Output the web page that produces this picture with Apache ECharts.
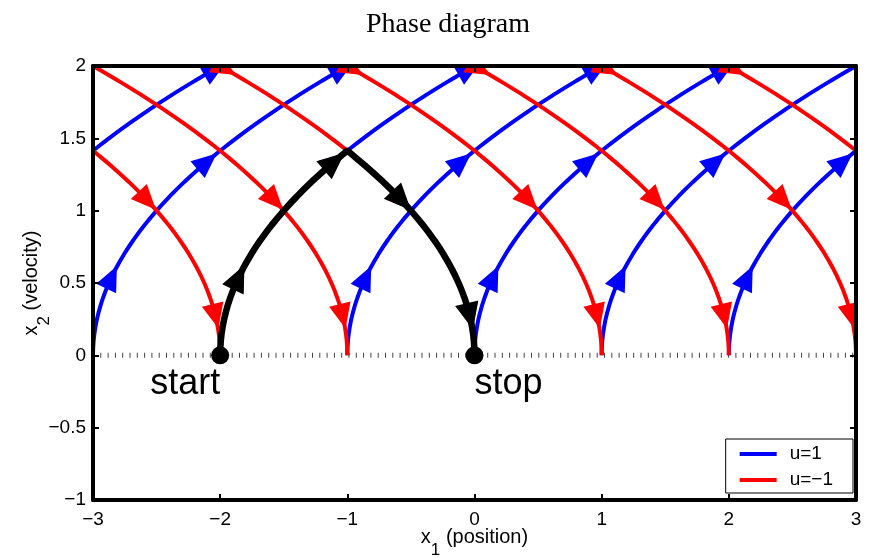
<!DOCTYPE html>
<html>
<head>
<meta charset="utf-8">
<script src="https://cdn.jsdelivr.net/npm/echarts@6/dist/echarts.min.js"></script>
<style>
  html, body { margin: 0; padding: 0; background: #fff; }
  #chart { width: 876px; height: 558px; }
</style>
</head>
<body>
<div id="chart"></div>
<script>
// velocity samples along one trajectory and the matching position drift (x2^2/2)
var speeds = [0, 0.1, 0.2, 0.3, 0.4, 0.5, 0.6, 0.7, 0.8, 0.9, 1.0, 1.1, 1.2, 1.3, 1.4, 1.414, 1.5, 1.6, 1.7, 1.8, 1.9, 2.0];
var drift = [0, 0.005, 0.02, 0.045, 0.08, 0.125, 0.18, 0.245, 0.32, 0.405, 0.5, 0.605, 0.72, 0.845, 0.98, 1.0, 1.125, 1.28, 1.445, 1.62, 1.805, 2.0];

// where each parabola touches x2 = 0
var blueOffsets = [-4, -3, -2, -1, 0, 1, 2];   // u = 1
var redOffsets = [-2, -1, 0, 1, 2, 3, 4];      // u = -1

// arrow heads, by velocity
var blueArrowSpeeds = [0.54, 1.34, 1.98];
var redArrowSpeeds = [1.98, 1.07, 0.27];

var startPos = -2;
var stopPos = 0;
var switchSpeed = 1.414;

var xTicks = [-3, -2, -1, 0, 1, 2, 3];
var yTicks = [-1, -0.5, 0, 0.5, 1, 1.5, 2];

var BLUE = '#0000ff';
var RED = '#ff0000';
var FONT = 'Liberation Sans';

function minus(v) {
  return String(v).replace('-', '\u2212');
}

function curve(offset, sign) {
  var pts = [];
  for (var i = 0; i < speeds.length; i++) {
    pts.push([offset + sign * drift[i], speeds[i]]);
  }
  return pts;
}

var series = [];

// dotted x2 = 0 line
series.push({
  type: 'line',
  data: [[-3, 0], [3, 0]],
  symbol: 'none',
  silent: true,
  z: 1,
  lineStyle: { color: '#444', width: 5, type: [1, 6.3] }
});

blueOffsets.forEach(function (c) {
  series.push({
    type: 'line', name: 'u=1', data: curve(c, 1), smooth: true,
    symbol: 'none', z: 2,
    itemStyle: { color: BLUE },
    lineStyle: { color: BLUE, width: 4 }
  });
});
redOffsets.forEach(function (c) {
  series.push({
    type: 'line', name: 'u=\u22121', data: curve(c, -1), smooth: true,
    symbol: 'none', z: 2,
    itemStyle: { color: RED },
    lineStyle: { color: RED, width: 4 }
  });
});

// optimal path: accelerate then brake
var blackPath = [];
for (var i = 0; i < speeds.length && speeds[i] <= switchSpeed; i++) {
  blackPath.push([startPos + drift[i], speeds[i]]);
}
for (var j = blackPath.length - 2; j >= 0; j--) {
  blackPath.push([stopPos - drift[j], speeds[j]]);
}
series.push({
  type: 'line', data: blackPath, smooth: true, symbol: 'none', z: 4,
  lineStyle: { color: '#000', width: 6.5 }
});

// arrows: [x1, x2, u, size]
var blueArrows = [], redArrows = [], blackArrows = [];
blueOffsets.forEach(function (c) {
  blueArrowSpeeds.forEach(function (v) {
    var x = c + v * v / 2;
    if (x > -3 && x < 2.93) blueArrows.push([x, v, 1, 25]);
  });
});
redOffsets.forEach(function (c) {
  redArrowSpeeds.forEach(function (v) {
    var x = c - v * v / 2;
    if (x > -2.93 && x < 3.02) redArrows.push([x, v, -1, 25]);
  });
});
blueArrowSpeeds.forEach(function (v) {
  if (v < switchSpeed) blackArrows.push([startPos + v * v / 2, v, 1, 27]);
});
redArrowSpeeds.forEach(function (v) {
  if (v < switchSpeed) blackArrows.push([stopPos - v * v / 2, v, -1, 27]);
});

function arrowSeries(data, color, z) {
  return {
    type: 'custom',
    data: data,
    clip: true,
    z: z,
    silent: true,
    encode: { x: 0, y: 1 },
    renderItem: function (params, api) {
      var x = api.value(0), y = api.value(1), u = api.value(2), size = api.value(3);
      var p = api.coord([x, y]);
      var q = api.coord([x + y * 0.01, y + u * 0.01]);
      var dx = q[0] - p[0], dy = q[1] - p[1];
      var len = Math.sqrt(dx * dx + dy * dy);
      dx /= len; dy /= len;
      var half = size / 2, w = size * 0.44;
      var tip = [p[0] + dx * half, p[1] + dy * half];
      var b = [p[0] - dx * half, p[1] - dy * half];
      return {
        type: 'polygon',
        shape: { points: [tip, [b[0] - dy * w, b[1] + dx * w], [b[0] + dy * w, b[1] - dx * w]] },
        style: { fill: color }
      };
    }
  };
}
series.push(arrowSeries(blueArrows, BLUE, 3));
series.push(arrowSeries(redArrows, RED, 3));
series.push(arrowSeries(blackArrows, '#000', 5));

// start / stop markers
series.push({
  type: 'scatter',
  symbolSize: 18,
  z: 6,
  itemStyle: { color: '#000', opacity: 1 },
  label: {
    show: true, position: 'bottom', distance: 2, formatter: '{b}',
    fontFamily: FONT, fontSize: 36, color: '#000', opacity: 1
  },
  data: [
    { name: 'start', value: [startPos, 0], label: { align: 'right' } },
    { name: 'stop', value: [stopPos, 0], label: { align: 'left' } }
  ]
});

var tickLabel = { fontFamily: FONT, fontSize: 19, color: '#000' };
var frameLine = { show: true, onZero: false, lineStyle: { color: '#000', width: 4 } };
var innerTick = { show: true, inside: true, length: 6, lineStyle: { color: '#000', width: 2 } };
var nameStyle = {
  fontFamily: FONT, fontSize: 20, color: '#000', lineHeight: 44,
  rich: { s: { fontFamily: FONT, fontSize: 17, lineHeight: 20, verticalAlign: 'bottom', color: '#000' } }
};

var chart = echarts.init(document.getElementById('chart'));
chart.setOption({
  animation: false,
  backgroundColor: '#fff',
  title: {
    text: 'Phase diagram',
    left: 361,
    top: 6,
    textStyle: { fontFamily: 'Liberation Serif', fontSize: 28, fontWeight: 'normal', color: '#000' }
  },
  legend: {
    right: 23,
    bottom: 65,
    orient: 'vertical',
    data: [{ name: 'u=1', icon: 'rect' }, { name: 'u=\u22121', icon: 'rect' }],
    itemWidth: 37,
    itemHeight: 4,
    itemGap: 6,
    padding: [5, 20, 3, 14],
    backgroundColor: '#fff',
    borderColor: '#000',
    borderWidth: 1,
    borderRadius: 0,
    selectedMode: false,
    textStyle: { fontFamily: FONT, fontSize: 19, lineHeight: 20, color: '#000', padding: [0, 0, 0, 8] }
  },
  grid: { left: 93, right: 20, top: 66, bottom: 58, containLabel: false, outerBoundsMode: 'none' },
  xAxis: [{
    type: 'value', min: -3, max: 3, interval: 1, z: 8,
    axisLine: frameLine, axisTick: innerTick, splitLine: { show: false },
    axisLabel: Object.assign({ margin: 10, formatter: function (v) { return xTicks.indexOf(v) >= 0 ? minus(v) : ''; } }, tickLabel),
    name: 'x{s|1} (position)',
    nameLocation: 'middle',
    nameGap: 15,
    nameMoveOverlap: false,
    nameTextStyle: nameStyle
  }, {
    type: 'value', min: -3, max: 3, interval: 1, position: 'top', z: 8,
    axisLine: frameLine, axisTick: innerTick, splitLine: { show: false },
    axisLabel: { show: false }
  }],
  yAxis: [{
    type: 'value', min: -1, max: 2, interval: 0.5, z: 8,
    axisLine: frameLine, axisTick: innerTick, splitLine: { show: false },
    axisLabel: Object.assign({ margin: 7, formatter: function (v) { return yTicks.indexOf(v) >= 0 ? minus(v) : ''; } }, tickLabel),
    name: 'x{s|2} (velocity)',
    nameLocation: 'middle',
    nameGap: 40,
    nameMoveOverlap: false,
    nameTextStyle: nameStyle
  }, {
    type: 'value', min: -1, max: 2, interval: 0.5, position: 'right', z: 8,
    axisLine: frameLine, axisTick: innerTick, splitLine: { show: false },
    axisLabel: { show: false }
  }],
  series: series
});
</script>
</body>
</html>
